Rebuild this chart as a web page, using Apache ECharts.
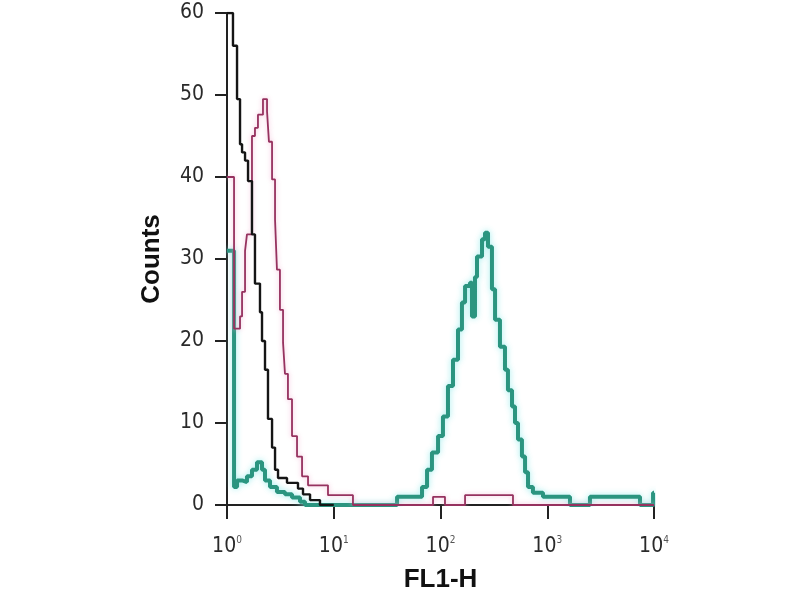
<!DOCTYPE html>
<html>
<head>
<meta charset="utf-8">
<script src="https://cdn.jsdelivr.net/npm/echarts@6/dist/echarts.min.js"></script>
<style>html,body{margin:0;padding:0;background:#fff}#c{width:800px;height:600px}</style>
</head>
<body>
<div id="c"></div>
<script>
// x = log10(FL1-H) position of each histogram step's left edge, y = counts
const blackX = [0.00,0.056,0.094,0.122,0.141,0.169,0.197,0.234,0.262,0.309,0.328,0.356,0.384,0.422,0.450,0.478,0.562,0.665,0.712,0.778,0.871,1.0];
const blackY = [60,56,49.5,44,43,42,39.5,33,27,23.5,20,16.5,10.5,7,4.3,3.3,2.7,2,1.3,0.6,0,0];

const magentaX = [0.00,0.066,0.122,0.141,0.169,0.187,0.234,0.262,0.290,0.337,0.375,0.393,0.422,0.450,0.468,0.496,0.525,0.543,0.571,0.609,0.656,0.703,0.759,0.946,1.180,1.930,2.042,2.230,2.679,4.0];
const magentaY = [40,21.5,23,26,31,33,45,46,47.6,49.5,48,44.3,39.7,34.8,28.7,23.8,19.8,16,12.9,8.4,5.9,3.5,2.4,1.2,0,1,0,1.2,0,0];

const tealX = [0.00,0.066,0.094,0.141,0.187,0.234,0.281,0.328,0.356,0.403,0.468,0.543,0.609,0.684,0.731,1.593,1.827,1.874,1.920,1.977,2.023,2.070,2.117,2.164,2.201,2.230,2.276,2.295,2.323,2.342,2.389,2.417,2.445,2.482,2.511,2.557,2.604,2.632,2.670,2.698,2.726,2.763,2.792,2.820,2.866,2.960,3.213,3.400,3.869,3.991,4.0];
const tealY = [31,2.2,3,2.8,3.5,4.3,5.2,4.3,3,2.2,1.6,1.3,0.9,0.4,0,1,2.2,4.3,6.4,8.4,10.8,14.5,17.7,21.4,24.7,26.7,27.1,23,27.8,30.3,32.4,33.2,31.5,26.3,22.6,19.3,16.5,14,12,10,8,5.9,4,2.2,1.5,1,0,1,0,1.5,1.5];

const xTickExponents = [0,1,2,3,4];
const yTicks = [0,10,20,30,40,50,60];

const zip = (xs, ys) => xs.map((x, i) => [x, ys[i]]);
const labelFont = 'Liberation Sans Narrow, DejaVu Sans Condensed, sans-serif';

const chart = echarts.init(document.getElementById('c'));
chart.setOption({
  backgroundColor: '#fff',
  animation: false,
  grid: { left: 227, right: 146, top: 13, bottom: 95, containLabel: false },
  xAxis: {
    type: 'value', min: 0, max: 4, interval: 1,
    name: 'FL1-H', nameLocation: 'middle', nameGap: 62,
    nameTextStyle: { fontFamily: 'Liberation Sans, Arial, sans-serif', fontWeight: 'bold', fontSize: 26, color: '#111' },
    axisLine: { lineStyle: { color: '#222', width: 2 } },
    axisTick: { length: 14, lineStyle: { color: '#222', width: 2 } },
    splitLine: { show: false },
    axisLabel: {
      margin: 30,
      formatter: v => '{b|10}{s|' + xTickExponents[Math.round(v)] + '}',
      rich: {
        b: { fontFamily: labelFont, fontSize: 21, color: '#2a2a2a', lineHeight: 22, verticalAlign: 'bottom' },
        s: { fontFamily: labelFont, fontSize: 10, color: '#555', lineHeight: 22, verticalAlign: 'top' }
      }
    }
  },
  yAxis: {
    type: 'value', min: 0, max: 60, interval: 10,
    name: 'Counts', nameLocation: 'middle', nameGap: 62, nameRotate: 90,
    nameTextStyle: { fontFamily: 'Liberation Sans, Arial, sans-serif', fontWeight: 'bold', fontSize: 26, color: '#111' },
    axisLine: { show: true, lineStyle: { color: '#222', width: 2 } },
    axisTick: { show: true, length: 12, lineStyle: { color: '#222', width: 2 } },
    splitLine: { show: false },
    axisLabel: {
      margin: 23,
      formatter: v => yTicks.includes(v) ? String(v) : '',
      fontFamily: labelFont, fontSize: 21, color: '#2a2a2a'
    }
  },
  series: [
    {
      type: 'line', step: 'end', symbol: 'none', z: 3,
      data: zip(magentaX, magentaY),
      lineStyle: { color: '#96325f', width: 1.8, shadowColor: 'rgba(240,170,205,0.8)', shadowBlur: 5 }
    },
    {
      type: 'line', step: 'end', symbol: 'none', z: 4,
      data: zip(blackX, blackY),
      lineStyle: { color: '#151515', width: 2.4 }
    },
    {
      type: 'line', step: 'end', symbol: 'none', z: 2,
      data: zip(tealX, tealY),
      lineStyle: { color: '#2b9580', width: 4, shadowColor: 'rgba(150,235,235,0.9)', shadowBlur: 6 }
    }
  ]
});
</script>
</body>
</html>
